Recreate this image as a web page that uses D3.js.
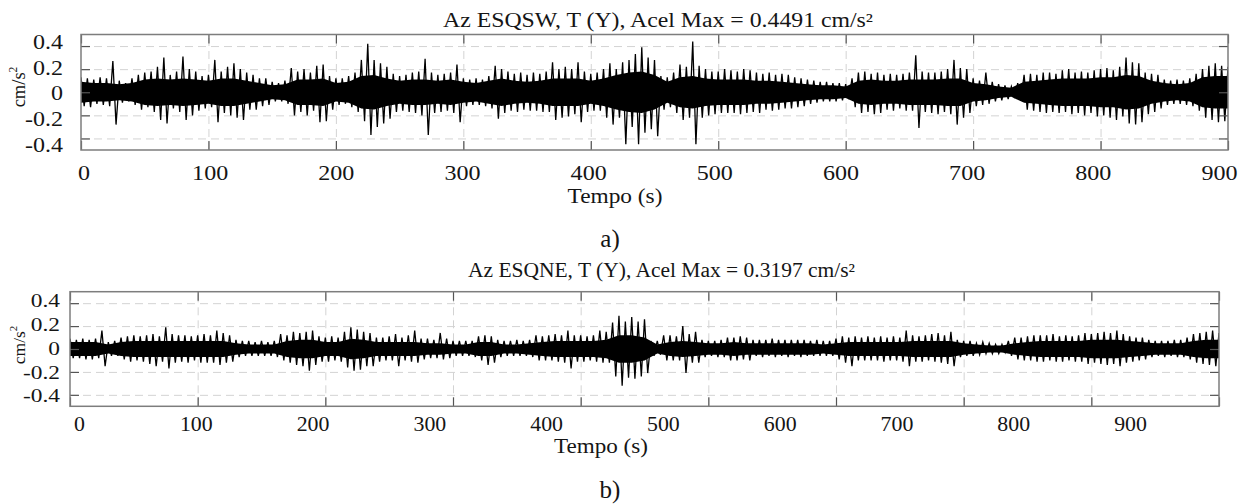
<!DOCTYPE html>
<html>
<head>
<meta charset="utf-8">
<script src="https://cdn.jsdelivr.net/npm/d3@7"></script>
<style>
  body { margin: 0; background: #fff; }
  text { font-family: "Liberation Serif", "Times New Roman", serif; fill: #151515; }
</style>
</head>
<body>
<svg id="chart" width="1252" height="504"></svg>
<script>
// ---- data --------------------------------------------------------------
// Peak envelope of each record, one value every 5 s (0 … 900 s), cm/s²
const peakStep = 5;
const swUpper = [
  .13,.12,.11,.13,.12,.27,.10,.08,.12,.15,.17,.18,.22,.30,.15,.18,.31,.20,.18,.14,
  .15,.28,.18,.22,.25,.20,.17,.15,.12,.12,.09,.08,.10,.21,.18,.20,.17,.23,.24,.14,
  .12,.12,.14,.17,.28,.42,.28,.25,.22,.16,.14,.15,.17,.18,.29,.17,.15,.16,.17,.24,
  .12,.11,.12,.11,.14,.23,.20,.18,.16,.17,.15,.17,.16,.18,.26,.20,.22,.20,.26,.18,
  .16,.17,.20,.25,.20,.26,.28,.33,.39,.30,.28,.14,.13,.17,.24,.22,.44,.23,.20,.18,
  .18,.20,.19,.18,.20,.19,.17,.16,.17,.15,.16,.15,.13,.12,.11,.10,.09,.09,.08,.08,
  .07,.12,.17,.18,.16,.17,.15,.16,.15,.16,.17,.32,.18,.17,.17,.18,.20,.28,.21,.20,
  .12,.10,.17,.09,.07,.06,.05,.08,.15,.16,.15,.17,.17,.16,.19,.20,.17,.18,.17,.19,
  .20,.21,.19,.22,.30,.26,.25,.17,.16,.15,.11,.10,.11,.10,.12,.16,.20,.23,.25,.23,.22
];
const swLower = [
  -.12,-.13,-.10,-.11,-.12,-.28,-.09,-.08,-.11,-.15,-.13,-.17,-.24,-.27,-.14,-.17,-.24,-.20,-.16,-.14,
  -.13,-.26,-.18,-.20,-.22,-.24,-.15,-.15,-.12,-.11,-.08,-.08,-.10,-.20,-.17,-.20,-.16,-.26,-.25,-.15,
  -.11,-.10,-.13,-.17,-.25,-.37,-.30,-.27,-.23,-.17,-.16,-.17,-.18,-.20,-.37,-.18,-.17,-.16,-.18,-.26,
  -.12,-.11,-.11,-.12,-.14,-.23,-.18,-.16,-.17,-.15,-.16,-.16,-.17,-.17,-.24,-.22,-.21,-.19,-.26,-.17,
  -.16,-.16,-.22,-.28,-.22,-.45,-.30,-.45,-.35,-.32,-.38,-.15,-.13,-.18,-.24,-.22,-.45,-.22,-.20,-.19,
  -.18,-.18,-.18,-.19,-.18,-.17,-.18,-.15,-.16,-.15,-.14,-.14,-.13,-.12,-.10,-.09,-.08,-.08,-.08,-.07,
  -.06,-.13,-.18,-.17,-.19,-.18,-.15,-.16,-.14,-.16,-.16,-.31,-.17,-.18,-.19,-.17,-.19,-.28,-.22,-.18,
  -.12,-.11,-.10,-.08,-.07,-.06,-.05,-.07,-.15,-.16,-.17,-.18,-.17,-.18,-.17,-.19,-.18,-.20,-.18,-.21,
  -.20,-.22,-.24,-.21,-.27,-.28,-.26,-.19,-.17,-.14,-.11,-.10,-.10,-.11,-.12,-.16,-.22,-.24,-.26,-.25,-.23
];
const neUpper = [
  .09,.08,.09,.08,.09,.16,.06,.07,.10,.11,.12,.11,.12,.13,.11,.19,.13,.12,.12,.11,
  .12,.13,.12,.16,.14,.12,.08,.07,.07,.06,.07,.06,.07,.13,.12,.15,.14,.15,.16,.11,
  .10,.11,.10,.15,.19,.17,.15,.14,.10,.10,.11,.13,.10,.12,.16,.09,.09,.08,.14,.09,
  .07,.07,.07,.07,.11,.12,.11,.08,.07,.07,.08,.07,.08,.12,.11,.12,.13,.12,.16,.12,
  .12,.11,.12,.16,.15,.23,.29,.24,.28,.24,.26,.07,.07,.12,.12,.11,.20,.13,.15,.08,
  .07,.07,.08,.10,.10,.11,.10,.08,.08,.08,.09,.08,.08,.08,.08,.08,.07,.08,.07,.07,
  .09,.11,.10,.11,.10,.11,.10,.11,.10,.11,.10,.16,.12,.11,.12,.13,.14,.12,.15,.08,
  .07,.07,.05,.06,.05,.04,.04,.07,.10,.10,.11,.12,.12,.12,.13,.11,.12,.11,.12,.14,
  .13,.14,.15,.14,.16,.13,.11,.10,.10,.08,.07,.07,.07,.08,.08,.10,.13,.14,.15,.16,.14
];
const neLower = [
  -.08,-.08,-.09,-.09,-.08,-.15,-.06,-.06,-.09,-.11,-.10,-.11,-.13,-.15,-.11,-.17,-.12,-.11,-.12,-.10,
  -.12,-.12,-.12,-.14,-.12,-.11,-.07,-.06,-.06,-.06,-.06,-.06,-.07,-.10,-.12,-.14,-.15,-.19,-.14,-.11,
  -.11,-.10,-.11,-.16,-.19,-.18,-.15,-.15,-.11,-.10,-.10,-.15,-.10,-.11,-.12,-.09,-.08,-.08,-.09,-.08,
  -.06,-.06,-.06,-.07,-.10,-.14,-.12,-.07,-.06,-.06,-.06,-.06,-.07,-.10,-.10,-.10,-.11,-.12,-.17,-.11,
  -.11,-.10,-.11,-.12,-.12,-.24,-.32,-.25,-.26,-.24,-.21,-.06,-.05,-.10,-.10,-.10,-.21,-.12,-.12,-.07,
  -.06,-.07,-.07,-.10,-.10,-.09,-.10,-.06,-.07,-.06,-.07,-.06,-.07,-.06,-.07,-.06,-.06,-.06,-.06,-.06,
  -.09,-.12,-.15,-.10,-.10,-.10,-.10,-.11,-.10,-.10,-.11,-.15,-.11,-.11,-.10,-.11,-.12,-.13,-.15,-.07,
  -.06,-.06,-.05,-.04,-.04,-.04,-.03,-.06,-.09,-.10,-.10,-.11,-.11,-.10,-.11,-.11,-.10,-.11,-.11,-.13,
  -.12,-.13,-.14,-.13,-.15,-.12,-.11,-.10,-.09,-.07,-.06,-.07,-.06,-.07,-.07,-.09,-.12,-.13,-.14,-.15,-.14
];
// Half-width of the dense core of each record, one value every 10 s
const bodyStep = 10;
const swBody = [
  .09,.08,.08,.07,.08,.11,.12,.11,.12,.11,.10,.12,.12,.10,.08,.06,.07,.11,.11,.12,
  .08,.09,.14,.15,.12,.10,.11,.11,.10,.11,.09,.08,.10,.12,.10,.09,.10,.12,.12,.12,
  .10,.12,.15,.17,.18,.15,.09,.13,.14,.12,.11,.11,.11,.10,.10,.09,.08,.07,.06,.06,
  .05,.10,.11,.10,.10,.11,.11,.11,.12,.12,.08,.07,.05,.04,.09,.10,.11,.12,.12,.12,
  .13,.13,.15,.14,.10,.08,.07,.08,.13,.14,.14
];
const neBody = [
  .06,.06,.06,.04,.06,.07,.07,.07,.07,.07,.07,.07,.07,.05,.04,.04,.04,.07,.08,.08,
  .06,.06,.09,.08,.06,.06,.06,.06,.05,.05,.04,.04,.06,.06,.04,.04,.05,.06,.07,.07,
  .07,.07,.08,.12,.12,.10,.04,.06,.07,.06,.05,.05,.06,.05,.05,.05,.05,.05,.05,.04,
  .05,.06,.06,.06,.06,.06,.07,.07,.07,.07,.05,.04,.03,.03,.05,.06,.07,.07,.07,.07,
  .08,.08,.08,.07,.06,.05,.05,.05,.07,.08,.08
];
const xTicks = [0, 100, 200, 300, 400, 500, 600, 700, 800, 900];
const yTicks = [-0.4, -0.2, 0, 0.2, 0.4];
const titles = ["Az ESQSW, T (Y), Acel Max = 0.4491 cm/s²", "Az ESQNE, T (Y), Acel Max = 0.3197 cm/s²"];
const tags = ["a)", "b)"];
const xTitle = "Tempo (s)";

// ---- layout ------------------------------------------------------------
const layouts = [
  { l: 81, r: 1228, t: 34.5, b: 150,
    xLab: [83.5, 1219], xLabBase: 180, xLabSize: 21.5, xLabSx: 1.12,
    yLab: [41.7, 145], yLabRight: 63, yLabSize: 20, yLabSx: 1.2,
    title: [658, 27, 20, 430], xt: [615, 202.5, 20.5, 95], tag: [610, 247, 25], yt: [19, 87, 18.5] },
  { l: 70, r: 1219, t: 291.7, b: 406.3,
    xLab: [79, 1130], xLabBase: 431, xLabSize: 21, xLabSx: 1.04,
    yLab: [300.5, 396], yLabRight: 60, yLabSize: 18, yLabSx: 1.3,
    title: [661.5, 277, 20, 387], xt: [601, 453, 21.5, 94], tag: [610, 498, 25], yt: [19, 345, 17.5] }
];
const records = [
  { upper: swUpper, lower: swLower, body: swBody },
  { upper: neUpper, lower: neLower, body: neBody }
];

const svg = d3.select("#chart");
const defs = svg.append("defs");

function drawPanel(i) {
  const L = layouts[i], R = records[i];
  const g = svg.append("g");
  const w = L.r - L.l, h = L.b - L.t;
  const x = d3.scaleLinear().domain([0, 900]).range([L.l, L.r]);
  const y = d3.scaleLinear().domain([-0.5, 0.5]).range([L.b, L.t]);
  const xLabel = d3.scaleLinear().domain([0, 900]).range(L.xLab);
  const yLabel = d3.scaleLinear().domain([0.4, -0.4]).range(L.yLab);

  // dashed grid
  const gridStyle = s => {
    s.select(".domain").remove();
    s.selectAll("line").attr("stroke", "#d3d3d3").attr("stroke-width", 1).attr("stroke-dasharray", "8,5");
  };
  g.append("g").attr("transform", `translate(0,${L.b})`)
    .call(d3.axisBottom(x).tickValues(xTicks.slice(1, -1)).tickSize(-h).tickFormat(""))
    .call(gridStyle);
  g.append("g").attr("transform", `translate(${L.l},0)`)
    .call(d3.axisLeft(y).tickValues(yTicks).tickSize(-w).tickFormat(""))
    .call(gridStyle);

  // acceleration trace
  const clipId = "clip" + i;
  defs.append("clipPath").attr("id", clipId)
    .append("rect").attr("x", L.l).attr("y", L.t).attr("width", w).attr("height", h);
  const plot = g.append("g").attr("clip-path", `url(#${clipId})`);

  // solid core
  const core = R.body.map((v, k) => ({ t: k * bodyStep, v }));
  plot.append("path").datum(core)
    .attr("fill", "#000")
    .attr("d", d3.area().x(d => x(d.t)).y0(d => y(-d.v)).y1(d => y(d.v)));

  // peak-to-peak swings
  const trace = [];
  R.upper.forEach((v, k) => {
    trace.push({ t: k * peakStep, v });
    trace.push({ t: k * peakStep + peakStep / 2, v: R.lower[k] });
  });
  plot.append("path").datum(trace)
    .attr("fill", "none").attr("stroke", "#000").attr("stroke-width", 1.3)
    .attr("stroke-linejoin", "miter")
    .attr("d", d3.line().x(d => x(d.t)).y(d => y(d.v)));

  // inward tick marks on all four sides
  const tickStyle = s => {
    s.select(".domain").remove();
    s.selectAll("line").attr("stroke", "#555").attr("stroke-width", 1.2);
  };
  const tl = 9;
  g.append("g").attr("transform", `translate(0,${L.b})`)
    .call(d3.axisBottom(x).tickValues(xTicks).tickSize(-tl).tickFormat("")).call(tickStyle);
  g.append("g").attr("transform", `translate(0,${L.t})`)
    .call(d3.axisTop(x).tickValues(xTicks).tickSize(-tl).tickFormat("")).call(tickStyle);
  g.append("g").attr("transform", `translate(${L.l},0)`)
    .call(d3.axisLeft(y).tickValues(yTicks).tickSize(-tl).tickFormat("")).call(tickStyle);
  g.append("g").attr("transform", `translate(${L.r},0)`)
    .call(d3.axisRight(y).tickValues(yTicks).tickSize(-tl).tickFormat("")).call(tickStyle);

  // frame
  g.append("rect").attr("x", L.l).attr("y", L.t).attr("width", w).attr("height", h)
    .attr("fill", "none").attr("stroke", "#7d7d7d").attr("stroke-width", 1.5);

  // tick labels
  g.append("g").attr("transform", `translate(0,${L.xLabBase})`)
    .call(d3.axisBottom(xLabel).tickValues(xTicks).tickSize(0).tickPadding(0).tickFormat(d3.format("d")))
    .call(s => {
      s.select(".domain").remove();
      s.selectAll("text").attr("y", 0).attr("dy", 0)
        .attr("font-size", L.xLabSize).attr("font-family", null).attr("fill", "#151515")
        .attr("transform", `scale(${L.xLabSx},1)`);
    });
  g.append("g").attr("transform", `translate(${L.yLabRight},0)`)
    .call(d3.axisLeft(yLabel).tickValues(yTicks).tickSize(0).tickPadding(0)
      .tickFormat(d => d === 0 ? "0" : d3.format(".1f")(d).replace("−", "-")))
    .call(s => {
      s.select(".domain").remove();
      s.selectAll("text").attr("x", 0).attr("dy", "0.33em")
        .attr("font-size", L.yLabSize).attr("font-family", null).attr("fill", "#151515")
        .attr("transform", `scale(${L.yLabSx},1)`);
    });

  // titles
  g.append("text").attr("x", L.title[0]).attr("y", L.title[1])
    .attr("text-anchor", "middle").attr("font-size", L.title[2])
    .attr("textLength", L.title[3]).attr("lengthAdjust", "spacingAndGlyphs")
    .text(titles[i]);
  g.append("text").attr("x", L.xt[0]).attr("y", L.xt[1])
    .attr("text-anchor", "middle").attr("font-size", L.xt[2])
    .attr("textLength", L.xt[3]).attr("lengthAdjust", "spacingAndGlyphs")
    .text(xTitle);
  g.append("text").attr("x", L.tag[0]).attr("y", L.tag[1])
    .attr("text-anchor", "middle").attr("font-size", L.tag[2])
    .text(tags[i]);
  const yt = g.append("text")
    .attr("transform", `translate(${L.yt[0]},${L.yt[1]}) rotate(-90)`)
    .attr("text-anchor", "middle").attr("dy", "0.33em").attr("font-size", L.yt[2]);
  yt.append("tspan").text("cm/s");
  yt.append("tspan").attr("font-size", L.yt[2] * 0.62).attr("dy", -L.yt[2] * 0.42).text("2");
}

drawPanel(0);
drawPanel(1);
</script>
</body>
</html>
